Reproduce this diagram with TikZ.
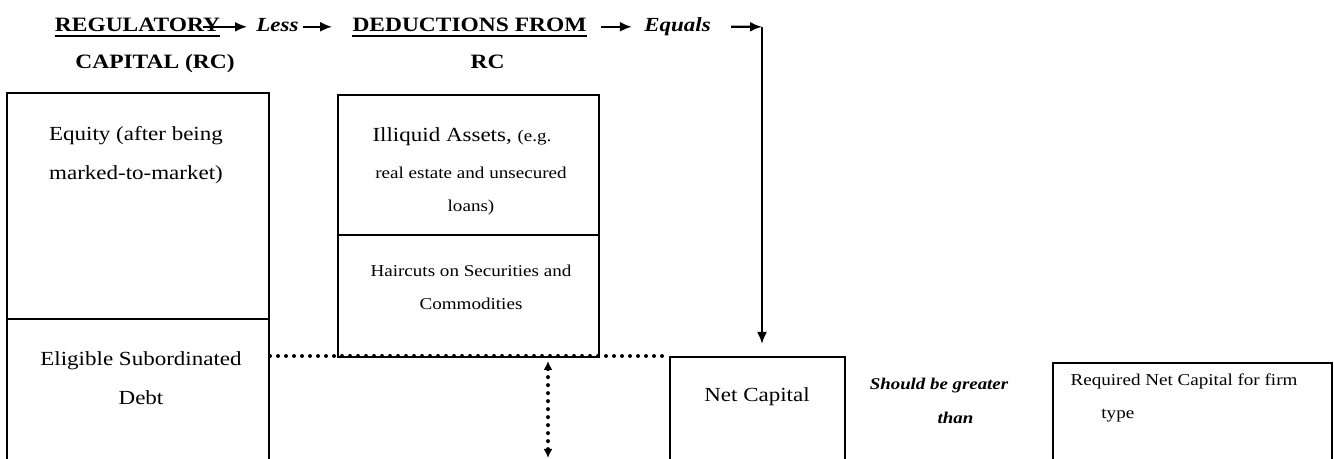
\documentclass[tikz,border=0pt]{standalone}
\usepackage{fontspec}
\setmainfont{Liberation Serif}[FakeStretch=1.15]
\usetikzlibrary{arrows.meta}

\tikzset{
    box/.style={draw, line width=1pt, inner sep=0pt},
    head/.style={inner sep=0pt, text height=6.7pt, text depth=1.5pt, font=\fontsize{10.2}{12}\selectfont\bfseries},
    cue/.style={inner sep=0pt, text height=6.7pt, text depth=1.5pt, font=\fontsize{10}{12}\selectfont\bfseries\itshape},
    body/.style={align=center, inner sep=0pt, font=\fontsize{10}{19.5}\selectfont},
    note/.style={align=center, inner sep=0pt, font=\fontsize{8.3}{16.5}\selectfont},
    link/.style={line width=1.1pt, -{Latex[length=6pt,width=5pt]}},
    dots/.style={line width=2pt, line cap=round, dash pattern=on 0pt off 4pt},
}

\begin{document}
\begin{tikzpicture}[x=0.5pt, y=-0.5pt]
    \useasboundingbox (0,0) rectangle (1334,459);
    \clip (0,0) rectangle (1334,459);

    % Heading row
    \node[head, anchor=base] (reg) at (137.5,32) {REGULATORY};
    \node[head, anchor=base] (regcap) at (155,69) {CAPITAL (RC)};
    \node[cue, anchor=base] (less) at (277.5,32) {Less};
    \node[head, anchor=base] (ded) at (469.5,32) {DEDUCTIONS FROM};
    \node[head, anchor=base] (dedcap) at (487.5,69) {RC};
    \node[cue, anchor=base] (eq) at (677.5,32) {Equals};
    \coordinate (turn) at (762,26.8);

    % Underlines
    \draw[line width=1pt] ([yshift=-1.8pt]reg.base west) -- ([yshift=-1.8pt]reg.base east);
    \draw[line width=1pt] ([yshift=-1.8pt]ded.base west) -- ([yshift=-1.8pt]ded.base east);

    % Regulatory capital column
    \node[box, minimum width=131pt, minimum height=113pt] (equitybox) at (138,206) {};
    \node[body] (equity) at (136,155) {Equity (after being\\marked-to-market)};
    \node[box, minimum width=131pt, minimum height=105.5pt] (debtbox) at (138,424.5) {};
    \node[body] (debt) at (141,378) {Eligible Subordinated\\Debt};

    % Deductions column
    \node[box, minimum width=130.5pt, minimum height=70pt] (illiqbox) at (468.5,165) {};
    \node[body] (illiq) at (462,137) {Illiquid Assets, {\fontsize{8.3}{10}\selectfont(e.g.}};
    \node[note] (illiqnote) at (471,191) {real estate and unsecured\\loans)};
    \node[box, minimum width=130.5pt, minimum height=61pt] (hairbox) at (468.5,296) {};
    \node[note] (hair) at (471,287) {Haircuts on Securities and\\Commodities};

    % Net capital and requirement
    \node[box, minimum width=87.5pt, minimum height=86.5pt] (netbox) at (757.5,443.5) {};
    \node[body] (net) at (757,397) {Net Capital};
    \node[cue, font=\fontsize{8.2}{10}\selectfont\bfseries\itshape] (greater) at (939,384) {Should be greater};
    \node[cue, font=\fontsize{8.2}{10}\selectfont\bfseries\itshape] (than) at (955.5,418) {than};
    \node[box, minimum width=139.5pt, minimum height=83.5pt] (reqbox) at (1192.5,446.5) {};
    \node[note] (req) at (1184,381) {Required Net Capital for firm};
    \node[note, anchor=west] (reqtype) at (1101,416) {type};

    % Arrows along the heading
    \draw[link] ([xshift=-8.5pt]reg.east) -- ([xshift=-4.5pt]less.west);
    \draw[link] ([xshift=2pt]less.east) -- ([xshift=-10pt]ded.west);
    \draw[link] ([xshift=7pt]ded.east) -- ([xshift=-6pt]eq.west);
    \draw[link] ([xshift=10pt]eq.east) -- (turn);
    \draw[link, shorten >=6pt] (turn) -- (turn |- netbox.north);

    % Dotted level line and gap
    \draw[dots] (debtbox.east |- netbox.north west) -- (netbox.north west);
    \coordinate (gapend) at (548,458);
    \draw[dots, {Latex[length=4.5pt,width=4.5pt]}-{Latex[length=4.5pt,width=4.5pt]}, shorten <=1.5pt] (gapend |- hairbox.south) -- (gapend);
\end{tikzpicture}
\end{document}
